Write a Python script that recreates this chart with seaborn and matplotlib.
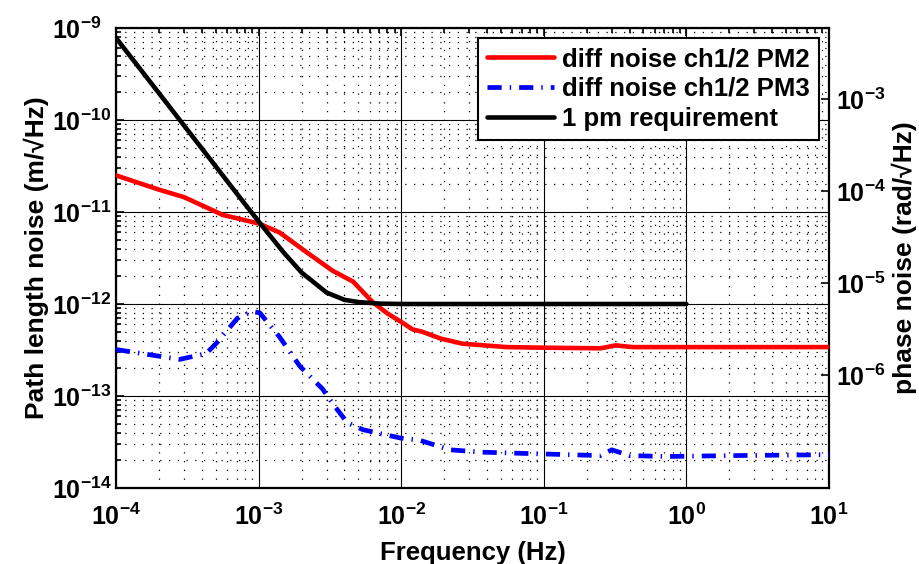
import numpy as np
import pandas as pd
import matplotlib
matplotlib.use("Agg")
import matplotlib.pyplot as plt
import matplotlib.ticker as mticker
import seaborn as sns

# ---- data -------------------------------------------------------------
freq_pm2 = [1e-4, 2e-4, 3e-4, 5.6e-4, 1e-3, 1.4e-3, 2.2e-3, 3.3e-3, 4.6e-3,
            6.3e-3, 8e-3, 1.03e-2, 1.2e-2, 1.4e-2, 1.9e-2, 2.7e-2, 5.5e-2,
            0.1, 0.25, 0.32, 0.42, 1.0, 10.0]
noise_pm2 = [2.5e-11, 1.75e-11, 1.45e-11, 9.3e-12, 7.5e-12, 6.0e-12, 3.6e-12,
             2.3e-12, 1.75e-12, 1.05e-12, 7.9e-13, 6.2e-13, 5.3e-13, 5.0e-13,
             4.2e-13, 3.7e-13, 3.4e-13, 3.35e-13, 3.3e-13, 3.55e-13, 3.4e-13,
             3.4e-13, 3.4e-13]

freq_pm3 = [1e-4, 2.8e-4, 4.3e-4, 5.1e-4, 7.1e-4, 9e-4, 1.02e-3, 1.4e-3,
            1.95e-3, 2.8e-3, 3.3e-3, 4.2e-3, 5.4e-3, 9.8e-3, 1.35e-2, 2.2e-2,
            3.7e-2, 9.4e-2, 0.25, 0.30, 0.40, 0.73, 2.1, 10.0]
noise_pm3 = [3.2e-13, 2.5e-13, 2.9e-13, 3.8e-13, 7.0e-13, 8.3e-13, 8.0e-13,
             4.4e-13, 2.1e-13, 1.2e-13, 8.3e-14, 5.1e-14, 4.3e-14, 3.5e-14,
             3.3e-14, 2.6e-14, 2.45e-14, 2.35e-14, 2.25e-14, 2.6e-14,
             2.25e-14, 2.2e-14, 2.25e-14, 2.3e-14]

freq_req = [1e-4, 2e-4, 3e-4, 5e-4, 7e-4, 1e-3, 1.5e-3, 2e-3, 3e-3, 4e-3,
            5e-3, 7e-3, 1e-2, 1e-1, 1.0]
noise_req = [7.8e-10, 1.96e-10, 8.7e-11, 3.14e-11, 1.6e-11, 7.9e-12, 3.62e-12,
             2.2e-12, 1.33e-12, 1.11e-12, 1.05e-12, 1.01e-12, 1.0e-12,
             1.0e-12, 1.0e-12]

labels = ["diff noise ch1/2 PM2", "diff noise ch1/2 PM3", "1 pm requirement"]

x_ticks = [1e-4, 1e-3, 1e-2, 1e-1, 1e0, 1e1]
y_ticks = [1e-14, 1e-13, 1e-12, 1e-11, 1e-10, 1e-9]
right_ticks = [1e-6, 1e-5, 1e-4, 1e-3]

# path length -> phase conversion (2*pi / 1064 nm)
WAVELENGTH = 1.064e-6
PHASE_PER_METER = 2 * np.pi / WAVELENGTH

XLIM = (1e-4, 10)
YLIM = (1e-14, 1e-9)

# ---- style ------------------------------------------------------------
sns.set_style("white")
plt.rcParams["font.family"] = ["Liberation Sans", "DejaVu Sans"]
plt.rcParams["font.weight"] = "bold"
plt.rcParams["mathtext.fontset"] = "custom"
plt.rcParams["mathtext.bf"] = "Liberation Sans:bold"
plt.rcParams["mathtext.rm"] = "Liberation Sans:bold"
plt.rcParams["mathtext.default"] = "bf"
for key in ("text.color", "axes.labelcolor", "xtick.color", "ytick.color",
            "axes.edgecolor"):
    plt.rcParams[key] = "black"

fig = plt.figure(figsize=(9.2, 5.64), dpi=100)
ax = fig.add_axes([116 / 920, 1 - 488 / 564, (829 - 116) / 920, (488 - 28) / 564])

df2 = pd.DataFrame({"f": freq_pm2, "n": noise_pm2})
df3 = pd.DataFrame({"f": freq_pm3, "n": noise_pm3})
dfr = pd.DataFrame({"f": freq_req, "n": noise_req})

sns.lineplot(data=df2, x="f", y="n", ax=ax, color="#ff0000", lw=3.3,
             label=labels[0], zorder=4)
sns.lineplot(data=df3, x="f", y="n", ax=ax, color="#0000ff", lw=3.4,
             linestyle=(0, (3.0, 1.7, 0.3, 1.7)), dash_capstyle="butt",
             label=labels[1], zorder=3)
sns.lineplot(data=dfr, x="f", y="n", ax=ax, color="black", lw=3.3,
             label=labels[2], zorder=5)

ax.set_xscale("log")
ax.set_yscale("log")
ax.set_xlim(*XLIM)
ax.set_ylim(*YLIM)

def dec_fmt(v, pos):
    e = int(round(np.log10(v)))
    return r"$\mathbf{10^{%d}}$" % e

ax.xaxis.set_major_locator(mticker.FixedLocator(x_ticks))
ax.yaxis.set_major_locator(mticker.FixedLocator(y_ticks))
ax.xaxis.set_minor_locator(mticker.LogLocator(base=10, subs=np.arange(2, 10), numticks=100))
ax.yaxis.set_minor_locator(mticker.LogLocator(base=10, subs=np.arange(2, 10), numticks=100))
ax.xaxis.set_major_formatter(mticker.FuncFormatter(dec_fmt))
ax.yaxis.set_major_formatter(mticker.FuncFormatter(dec_fmt))
ax.xaxis.set_minor_formatter(mticker.NullFormatter())
ax.yaxis.set_minor_formatter(mticker.NullFormatter())

ax.grid(True, which="major", color="black", lw=0.8, ls="-")
ax.grid(True, which="minor", color="black", lw=0.9, ls=(0, (1, 6)))
ax.set_axisbelow(True)

ax.tick_params(which="both", direction="in", top=True, right=True,
               width=1.2, color="black", labelcolor="black")
ax.tick_params(which="major", length=6)
ax.tick_params(which="minor", length=3.5)
ax.tick_params(axis="x", which="major", labelsize=18, pad=11)
ax.tick_params(axis="y", which="major", labelsize=18, pad=46)
for t in ax.get_yticklabels():
    t.set_horizontalalignment("left")

for s in ax.spines.values():
    s.set_linewidth(1.6)
    s.set_color("black")

ax.set_xlabel("Frequency (Hz)", fontsize=18.5, fontweight="bold", labelpad=8,
              color="black")
ax.set_ylabel("Path length noise (m/\u221aHz)", fontsize=19,
              fontweight="bold", labelpad=2, color="black")

# right axis in phase units
ax2 = ax.twinx()
ax2.set_yscale("log")
ax2.set_ylim(YLIM[0] * PHASE_PER_METER, YLIM[1] * PHASE_PER_METER)
ax2.yaxis.set_major_locator(mticker.FixedLocator(right_ticks))
ax2.yaxis.set_minor_locator(mticker.NullLocator())
ax2.yaxis.set_major_formatter(mticker.FuncFormatter(dec_fmt))
ax2.tick_params(axis="y", which="major", direction="in", length=6, width=1.2,
                labelsize=18, pad=5, color="black", labelcolor="black")
for s in ax2.spines.values():
    s.set_visible(False)
ax2.set_ylabel("phase noise (rad/\u221aHz)", fontsize=19, fontweight="bold",
               labelpad=4, color="black")

leg = ax.legend(loc="upper right", fontsize=18.5, frameon=True, fancybox=False,
                borderaxespad=0.4, borderpad=0.35, labelspacing=0.22,
                handlelength=2.6, handletextpad=0.3, framealpha=1)
leg.get_frame().set_edgecolor("black")
leg.get_frame().set_linewidth(1.5)
for t in leg.get_texts():
    t.set_fontweight("bold")
    t.set_color("black")
leg.set_zorder(10)

fig.savefig("out.png", dpi=100)
